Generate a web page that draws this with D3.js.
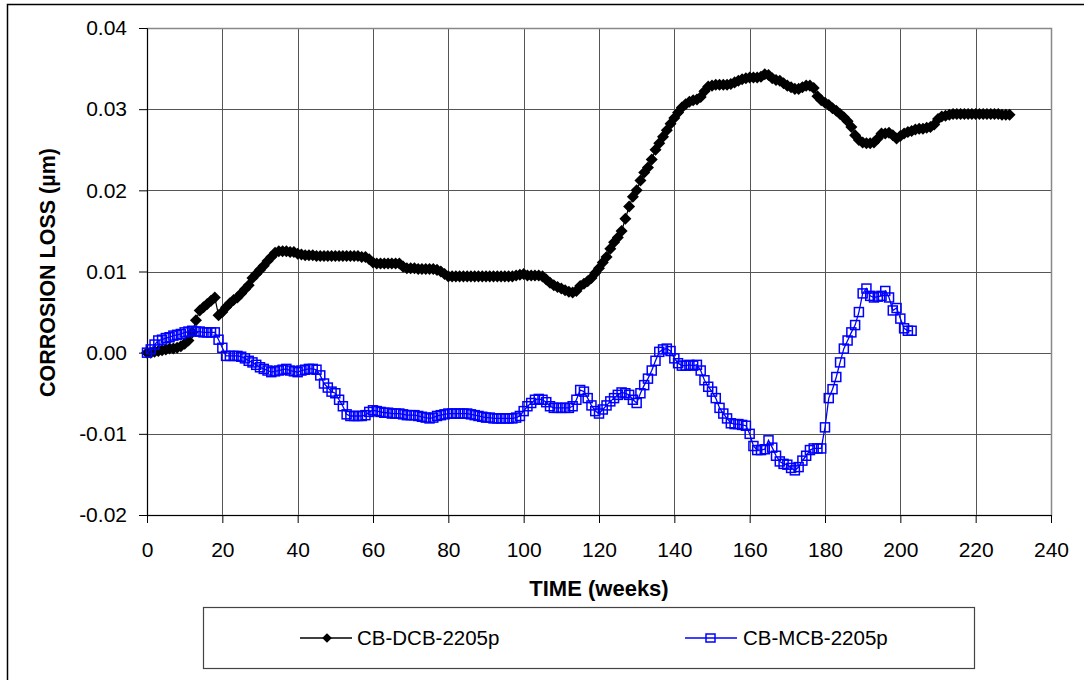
<!DOCTYPE html>
<html>
<head>
<meta charset="utf-8">
<script src="https://cdn.jsdelivr.net/npm/d3@7"></script>
<style>
  body { margin: 0; background: #fff; }
  svg { display: block; font-family: "Liberation Sans", Arial, sans-serif; }
</style>
</head>
<body>
<div id="chart"></div>
<script>
// weekly readings, first series runs 0..229 weeks, second 0..203
const dcbLoss = [
  0.0000, 0.0000, 0.0001, 0.0002, 0.0003, 0.0004, 0.0005, 0.0005, 0.0006, 0.0008,
  0.0011, 0.0015, 0.0025, 0.0040, 0.0052, 0.0056, 0.0060, 0.0064, 0.0068, 0.0046,
  0.0050, 0.0056, 0.0061, 0.0065, 0.0068, 0.0073, 0.0078, 0.0083, 0.0092, 0.0097,
  0.0102, 0.0107, 0.0113, 0.0118, 0.0123, 0.0125, 0.0125, 0.0125, 0.0124, 0.0124,
  0.0122, 0.0121, 0.0120, 0.0120, 0.0120, 0.0119, 0.0119, 0.0119, 0.0119, 0.0119,
  0.0119, 0.0119, 0.0119, 0.0119, 0.0119, 0.0119, 0.0119, 0.0118, 0.0118, 0.0115,
  0.0111, 0.0110, 0.0110, 0.0110, 0.0110, 0.0110, 0.0110, 0.0110, 0.0106, 0.0104,
  0.0104, 0.0104, 0.0103, 0.0103, 0.0103, 0.0103, 0.0103, 0.0102, 0.0100, 0.0097,
  0.0094, 0.0094, 0.0094, 0.0094, 0.0094, 0.0094, 0.0094, 0.0094, 0.0094, 0.0094,
  0.0094, 0.0094, 0.0094, 0.0094, 0.0094, 0.0094, 0.0094, 0.0094, 0.0095, 0.0096,
  0.0097, 0.0095, 0.0095, 0.0095, 0.0095, 0.0094, 0.0090, 0.0086, 0.0083, 0.0081,
  0.0079, 0.0077, 0.0075, 0.0074, 0.0076, 0.0082, 0.0085, 0.0088, 0.0092, 0.0098,
  0.0104, 0.0111, 0.0118, 0.0128, 0.0136, 0.0142, 0.0150, 0.0165, 0.0180, 0.0192,
  0.0200, 0.0212, 0.0222, 0.0228, 0.0238, 0.0250, 0.0258, 0.0266, 0.0274, 0.0282,
  0.0289, 0.0296, 0.0302, 0.0306, 0.0309, 0.0311, 0.0312, 0.0315, 0.0322, 0.0328,
  0.0329, 0.0330, 0.0330, 0.0330, 0.0330, 0.0331, 0.0333, 0.0335, 0.0337, 0.0338,
  0.0339, 0.0339, 0.0339, 0.0340, 0.0343, 0.0342, 0.0338, 0.0336, 0.0335, 0.0332,
  0.0329, 0.0327, 0.0325, 0.0325, 0.0327, 0.0329, 0.0329, 0.0326, 0.0316, 0.0311,
  0.0308, 0.0305, 0.0301, 0.0298, 0.0294, 0.0290, 0.0285, 0.0278, 0.0268, 0.0262,
  0.0259, 0.0258, 0.0258, 0.0259, 0.0264, 0.0270, 0.0270, 0.0271, 0.0268, 0.0264,
  0.0267, 0.0270, 0.0272, 0.0273, 0.0275, 0.0276, 0.0276, 0.0277, 0.0278, 0.0281,
  0.0288, 0.0291, 0.0292, 0.0293, 0.0294, 0.0294, 0.0294, 0.0294, 0.0294, 0.0294,
  0.0294, 0.0294, 0.0294, 0.0294, 0.0294, 0.0294, 0.0294, 0.0293, 0.0293, 0.0293
]

const mcbLoss = [
  0.0000, 0.0004, 0.0010, 0.0015, 0.0016, 0.0018, 0.0019, 0.0021, 0.0022, 0.0023,
  0.0025, 0.0026, 0.0027, 0.0026, 0.0026, 0.0025, 0.0025, 0.0025, 0.0025, 0.0016,
  0.0006, -0.0004, -0.0004, -0.0004, -0.0004, -0.0005, -0.0007, -0.0010, -0.0012, -0.0015,
  -0.0018, -0.0020, -0.0022, -0.0024, -0.0023, -0.0022, -0.0021, -0.0020, -0.0022, -0.0023,
  -0.0024, -0.0022, -0.0021, -0.0020, -0.0020, -0.0021, -0.0028, -0.0038, -0.0043, -0.0048,
  -0.0050, -0.0058, -0.0066, -0.0076, -0.0078, -0.0078, -0.0078, -0.0078, -0.0077, -0.0073,
  -0.0071, -0.0072, -0.0073, -0.0074, -0.0074, -0.0075, -0.0075, -0.0075, -0.0076, -0.0077,
  -0.0077, -0.0077, -0.0078, -0.0079, -0.0080, -0.0081, -0.0080, -0.0078, -0.0077, -0.0076,
  -0.0075, -0.0075, -0.0075, -0.0075, -0.0075, -0.0075, -0.0076, -0.0077, -0.0078, -0.0079,
  -0.0080, -0.0080, -0.0081, -0.0081, -0.0081, -0.0081, -0.0081, -0.0081, -0.0080, -0.0078,
  -0.0072, -0.0066, -0.0062, -0.0058, -0.0057, -0.0058, -0.0061, -0.0066, -0.0068, -0.0068,
  -0.0068, -0.0068, -0.0068, -0.0066, -0.0058, -0.0046, -0.0048, -0.0056, -0.0065, -0.0072,
  -0.0075, -0.0070, -0.0065, -0.0060, -0.0056, -0.0052, -0.0049, -0.0050, -0.0052, -0.0058,
  -0.0062, -0.0050, -0.0040, -0.0032, -0.0022, -0.0010, 0.0001, 0.0004, 0.0005, 0.0002,
  -0.0007, -0.0013, -0.0016, -0.0016, -0.0015, -0.0016, -0.0015, -0.0022, -0.0034, -0.0042,
  -0.0048, -0.0056, -0.0068, -0.0075, -0.0081, -0.0087, -0.0088, -0.0088, -0.0089, -0.0090,
  -0.0100, -0.0115, -0.0120, -0.0120, -0.0119, -0.0108, -0.0117, -0.0127, -0.0134, -0.0137,
  -0.0138, -0.0142, -0.0145, -0.0141, -0.0133, -0.0127, -0.0120, -0.0118, -0.0118, -0.0118,
  -0.0092, -0.0056, -0.0045, -0.0030, -0.0012, 0.0005, 0.0015, 0.0025, 0.0034, 0.0050,
  0.0073, 0.0079, 0.0070, 0.0068, 0.0069, 0.0070, 0.0076, 0.0068, 0.0052, 0.0055,
  0.0042, 0.0030, 0.0027, 0.0027
]

const xTicks = [0, 20, 40, 60, 80, 100, 120, 140, 160, 180, 200, 220, 240]
const yTicks = [-0.02, -0.01, 0.00, 0.01, 0.02, 0.03, 0.04]
const yTickLabels = ["-0.02", "-0.01", "0.00", "0.01", "0.02", "0.03", "0.04"]
const seriesNames = ["CB-DCB-2205p", "CB-MCB-2205p"]

const width = 1084
const height = 680
const margin = { top: 28, right: 33, bottom: 165, left: 147 }
const innerW = width - margin.left - margin.right
const innerH = height - margin.top - margin.bottom

const x = d3.scaleLinear().domain([0, 240]).range([0, innerW])
const y = d3.scaleLinear().domain([-0.02, 0.04]).range([innerH, 0])

const svg = d3.select("#chart").append("svg")
  .attr("width", width)
  .attr("height", height)

// outer chart frame, runs off the right and bottom edge
svg.append("rect")
  .attr("x", 7.5).attr("y", 4.5)
  .attr("width", width).attr("height", height)
  .attr("fill", "none").attr("stroke", "#000").attr("stroke-width", 1.5)

const g = svg.append("g").attr("transform", `translate(${margin.left},${margin.top})`)

// grid
g.append("g")
  .selectAll("line")
  .data(yTicks)
  .join("line")
  .attr("x1", 0).attr("x2", innerW)
  .attr("y1", d => Math.round(y(d)) + 0.5).attr("y2", d => Math.round(y(d)) + 0.5)
  .attr("stroke", "#555")

g.append("g")
  .selectAll("line")
  .data(xTicks)
  .join("line")
  .attr("x1", d => Math.round(x(d)) + 0.5).attr("x2", d => Math.round(x(d)) + 0.5)
  .attr("y1", 0).attr("y2", innerH)
  .attr("stroke", "#555")

// plot border right/top
g.append("rect")
  .attr("x", 0.5).attr("y", 0.5)
  .attr("width", Math.round(innerW)).attr("height", Math.round(innerH))
  .attr("fill", "none").attr("stroke", "#888").attr("stroke-width", 1.5)

// axes
const yFormat = d3.scaleOrdinal().domain(yTicks).range(yTickLabels)
g.append("g")
  .call(d3.axisLeft(y).tickValues(yTicks).tickSize(8).tickPadding(12).tickFormat(d => yFormat(d)))
  .call(a => a.selectAll("path,line").attr("stroke", "#000"))
  .call(a => a.selectAll(".tick text").attr("font-size", 21).attr("fill", "#000")
    .attr("font-family", "Liberation Sans, Arial, sans-serif"))

g.append("g")
  .attr("transform", `translate(0,${innerH})`)
  .call(d3.axisBottom(x).tickValues(xTicks).tickSize(8).tickPadding(19).tickSizeOuter(8))
  .call(a => a.selectAll("path,line").attr("stroke", "#000"))
  .call(a => a.selectAll(".tick text").attr("font-size", 21).attr("fill", "#000")
    .attr("font-family", "Liberation Sans, Arial, sans-serif"))

// axis titles
svg.append("text")
  .attr("x", margin.left + innerW / 2).attr("y", 596)
  .attr("text-anchor", "middle")
  .attr("font-size", 22).attr("font-weight", "bold")
  .text("TIME (weeks)")

svg.append("text")
  .attr("transform", `translate(55,${margin.top + innerH / 2 + 1}) rotate(-90)`)
  .attr("text-anchor", "middle")
  .attr("font-size", 21.5).attr("font-weight", "bold")
  .text("CORROSION LOSS (\u00b5m)")

const line = d3.line().x((d, i) => x(i)).y(d => y(d))
const diamond = d3.symbol().type(d3.symbolDiamond2).size(92)

// DCB series (black diamonds)
g.append("path")
  .datum(dcbLoss)
  .attr("d", line)
  .attr("fill", "none").attr("stroke", "#000").attr("stroke-width", 1.2)

g.append("g")
  .selectAll("path")
  .data(dcbLoss)
  .join("path")
  .attr("transform", (d, i) => `translate(${x(i)},${y(d)})`)
  .attr("d", diamond)
  .attr("fill", "#000")

// MCB series (blue open squares)
g.append("path")
  .datum(mcbLoss)
  .attr("d", line)
  .attr("fill", "none").attr("stroke", "#0000ff").attr("stroke-width", 1.3)

g.append("g")
  .selectAll("rect")
  .data(mcbLoss)
  .join("rect")
  .attr("x", (d, i) => x(i) - 4.5).attr("y", d => y(d) - 4.5)
  .attr("width", 9).attr("height", 9)
  .attr("fill", "none").attr("stroke", "#0000ff").attr("stroke-width", 1.5)

// legend
const legend = svg.append("g")
legend.append("rect")
  .attr("x", 203.5).attr("y", 607.5)
  .attr("width", 771).attr("height", 61)
  .attr("fill", "none").attr("stroke", "#444").attr("stroke-width", 1.2)

const ly = 638
legend.append("line").attr("x1", 300).attr("x2", 352).attr("y1", ly).attr("y2", ly).attr("stroke", "#000").attr("stroke-width", 1.3)
legend.append("path").attr("transform", `translate(327,${ly})`).attr("d", d3.symbol().type(d3.symbolDiamond2).size(60)).attr("fill", "#000")
legend.append("text").attr("x", 357).attr("y", ly + 7).attr("font-size", 20.5).text(seriesNames[0])

legend.append("line").attr("x1", 685).attr("x2", 737).attr("y1", ly).attr("y2", ly).attr("stroke", "#0000ff").attr("stroke-width", 1.3)
legend.append("rect").attr("x", 706).attr("y", ly - 4).attr("width", 9).attr("height", 8)
  .attr("fill", "none").attr("stroke", "#0000ff").attr("stroke-width", 1.5)
legend.append("text").attr("x", 743).attr("y", ly + 7).attr("font-size", 20.5).text(seriesNames[1])
</script>
</body>
</html>
